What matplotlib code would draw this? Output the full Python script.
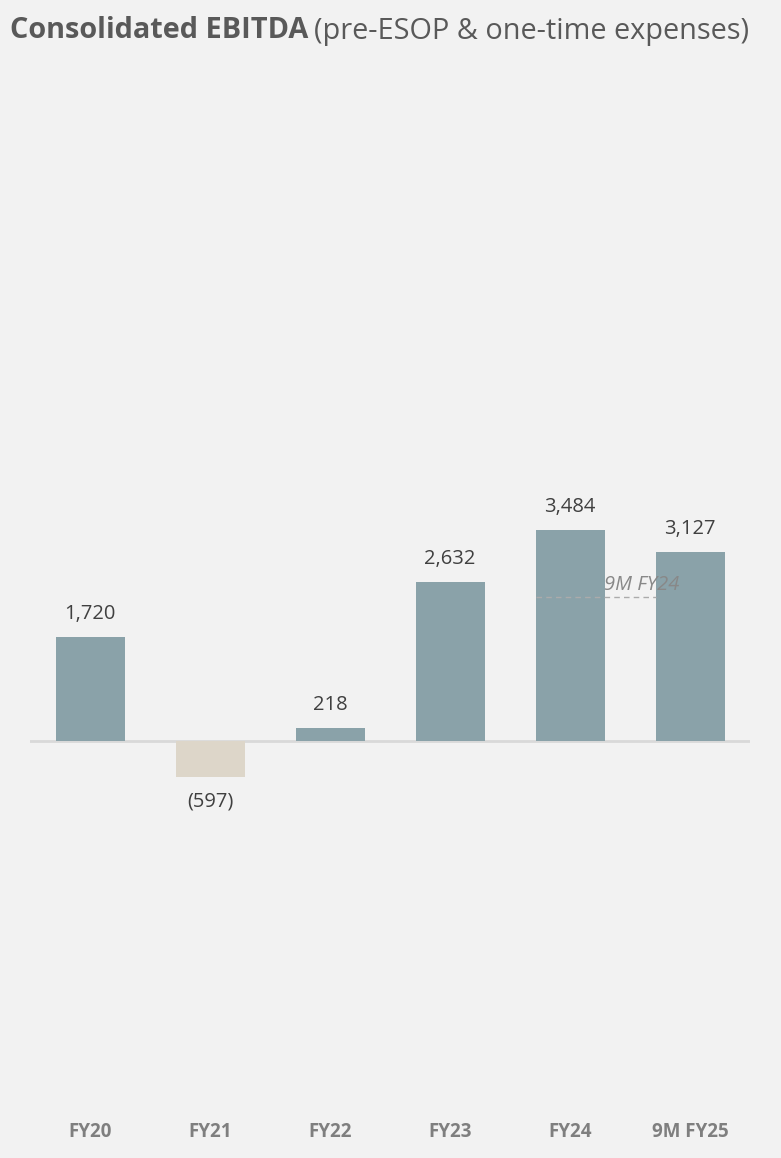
import matplotlib.pyplot as plt

# data
categories = ['FY20', 'FY21', 'FY22', 'FY23', 'FY24', '9M FY25']
ebitda = [1720, -597, 218, 2632, 3484, 3127]
labels = ['1,720', '(597)', '218', '2,632', '3,484', '3,127']
ref_label = '9M FY24'
ref_value = 2380  # 9M FY24 comparison level

bg = '#F2F2F2'
pos_color = '#8AA2A9'
neg_color = '#DDD6C9'
plt.rcParams['font.family'] = ['Open Sans', 'DejaVu Sans']

fig = plt.figure(figsize=(7.81, 11.58), dpi=100, facecolor=bg)
ax = fig.add_axes([30/781, 58/1158, 720/781, 1020/1158])
ax.set_facecolor(bg)

x = list(range(len(categories)))
w = 0.575
colors = [pos_color if v >= 0 else neg_color for v in ebitda]
ax.bar(x, ebitda, width=w, color=colors, zorder=2)
ax.axhline(0, color='#D9D9D9', lw=2, zorder=1)

for xi, v, lab in zip(x, ebitda, labels):
    if v >= 0:
        ax.annotate(lab, (xi, v), xytext=(0, 9.5), textcoords='offset points',
                    ha='center', va='bottom', fontsize=14.5, color='#404040')
    else:
        ax.annotate(lab, (xi, v), xytext=(0, -10), textcoords='offset points',
                    ha='center', va='top', fontsize=14.5, color='#404040')

# 9M FY24 reference line between FY24 and 9M FY25
ax.hlines(ref_value, 4 - w/2, 5 - w/2, colors='#ABABAB', lw=1,
          linestyles=(0, (4, 3)), zorder=3)
ax.annotate(ref_label, (4.6, ref_value), xytext=(0, 9), textcoords='offset points',
            ha='center', va='center', fontsize=14.5, style='italic', color='#888888', zorder=4)

ax.set_xlim(-0.5, 5.5)
ax.set_ylim(-5934, 10926)
ax.set_xticks(x)
ax.set_xticklabels(categories, fontsize=13.5, fontweight='bold', color='#7F7F7F')
ax.tick_params(axis='x', length=0, pad=16)
ax.set_yticks([])
for s in ax.spines.values():
    s.set_visible(False)

# title: bold part + regular part
t1 = fig.text(10/781, 1 - 31/1158, 'Consolidated EBITDA', fontsize=20.8, fontweight='bold',
              color='#595959', va='center', ha='left')
fig.canvas.draw()
bb = t1.get_window_extent()
fig.text((bb.x1 + 6)/781, 1 - 31/1158, '(pre-ESOP & one-time expenses)', fontsize=20.8,
         color='#595959', va='center', ha='left')

fig.savefig('out.png', dpi=100, facecolor=bg)
